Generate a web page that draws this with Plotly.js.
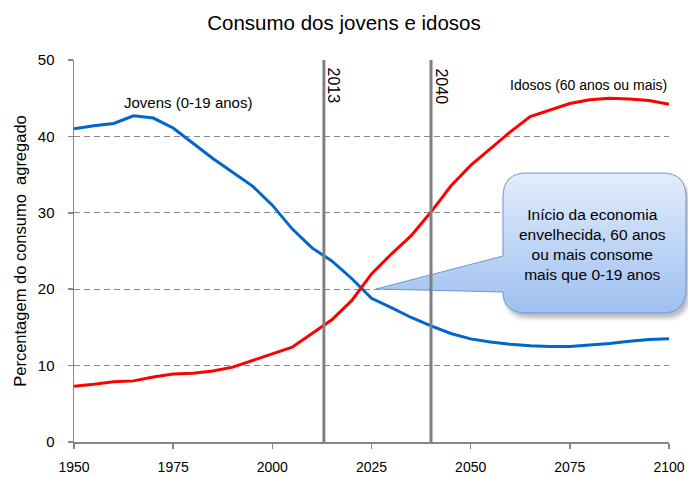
<!DOCTYPE html>
<html>
<head>
<meta charset="utf-8">
<script src="https://cdn.plot.ly/plotly-3.0.1.min.js"></script>
<style>html,body{margin:0;padding:0;background:#fff;}#chart{width:688px;height:477px;}</style>
</head>
<body>
<div id="chart"></div>
<script>
// ---- Data ----
const years = [1950,1955,1960,1965,1970,1975,1980,1985,1990,1995,2000,2005,2010,2015,2020,2025,2030,2035,2040,2045,2050,2055,2060,2065,2070,2075,2080,2085,2090,2095,2100];
const jovens = [41.0,41.4,41.7,42.7,42.4,41.1,39.1,37.1,35.3,33.5,31.0,27.9,25.4,23.7,21.4,18.8,17.6,16.3,15.2,14.2,13.5,13.1,12.8,12.6,12.5,12.5,12.7,12.9,13.2,13.4,13.5];
const idosos = [7.3,7.55,7.9,8.0,8.5,8.9,9.0,9.3,9.8,10.7,11.5,12.4,14.2,16.0,18.5,22.0,24.6,27.0,30.1,33.5,36.2,38.4,40.6,42.6,43.4,44.3,44.8,45.0,44.9,44.7,44.2];
const markerYears = [2013, 2040];
const markerLabels = ["2013", "2040"];
const xTicks = [1950,1975,2000,2025,2050,2075,2100];
const yTicks = [0,10,20,30,40,50];
const seriesNames = ["Jovens (0-19 anos)", "Idosos (60 anos ou mais)"];
const calloutText = "Início da economia<br>envelhecida, 60 anos<br>ou mais consome<br>mais que 0-19 anos";

const FONT = "Liberation Sans, Arial, sans-serif";

const traces = [
  {x: years, y: jovens, type: 'scatter', mode: 'lines', name: seriesNames[0],
   line: {color: '#0066cc', width: 3}, hoverinfo: 'skip'},
  {x: years, y: idosos, type: 'scatter', mode: 'lines', name: seriesNames[1],
   line: {color: '#ff0000', width: 3}, hoverinfo: 'skip'}
];

// callout bubble as SVG image (gradient fill)
const svg = '<svg xmlns="http://www.w3.org/2000/svg" width="320" height="160" viewBox="0 0 320 160">' +
  '<defs><linearGradient id="g" x1="0" y1="0" x2="0" y2="1">' +
  '<stop offset="0" stop-color="#e3edfc"/><stop offset="1" stop-color="#9ec0f0"/></linearGradient>' +
  '<filter id="b"><feGaussianBlur stdDeviation="2.5"/></filter></defs>' +
  '<path transform="translate(3,5)" filter="url(#b)" fill="rgba(0,0,0,0.28)" d="M 133,30 L 133,91 L 133,127 Q 133,148 157,148 L 292,148 Q 316,148 316,124 L 316,32 Q 316,8 292,8 L 157,8 Q 133,8 133,32 Z"/>' +
  '<path fill="url(#g)" stroke="#6a96d6" stroke-width="1" d="M 133,91 L 6,124 L 133,127 Q 133,148 157,148 L 292,148 Q 316,148 316,124 L 316,32 Q 316,8 292,8 L 157,8 Q 133,8 133,32 Z"/>' +
  '</svg>';
const svgUri = 'data:image/svg+xml;charset=utf-8,' + encodeURIComponent(svg);

const shapes = markerYears.map(yr => ({
  type: 'line', xref: 'x', yref: 'y', x0: yr, x1: yr, y0: 0, y1: 50,
  line: {color: '#7f7f7f', width: 3}, layer: 'above'
}));

const annotations = [
  {x: 1978.7, y: 44.5, xref: 'x', yref: 'y', text: seriesNames[0], showarrow: false,
   xanchor: 'center', yanchor: 'middle', font: {family: FONT, size: 15, color: '#000'}},
  {x: 2100, y: 46.7, xref: 'x', yref: 'y', text: seriesNames[1], showarrow: false,
   xanchor: 'right', yanchor: 'middle', font: {family: FONT, size: 14, color: '#000'}},
  {x: 0.872, y: 0.516, xref: 'paper', yref: 'paper', text: calloutText, showarrow: false,
   xanchor: 'center', yanchor: 'middle', align: 'center',
   font: {family: FONT, size: 15.5, color: '#000'}}
].concat(markerYears.map((yr, i) => ({
  x: yr + 2.4, y: 46.6, xref: 'x', yref: 'y', text: markerLabels[i], showarrow: false,
  xanchor: 'center', yanchor: 'middle',
  textangle: 90, font: {family: FONT, size: 16, color: '#000'}
})));

const layout = {
  width: 688, height: 477,
  margin: {l: 74, r: 19, t: 60, b: 35},
  paper_bgcolor: '#fff', plot_bgcolor: '#fff',
  showlegend: false,
  title: {text: 'Consumo dos jovens e idosos', x: 0.5, xanchor: 'center', y: 0.953, yanchor: 'middle',
          font: {family: FONT, size: 20.5, color: '#000'}},
  xaxis: {range: [1950, 2100], tickvals: xTicks, ticktext: xTicks.map(String),
          showgrid: false, zeroline: false, showline: true, linecolor: '#868686', linewidth: 1.5,
          ticks: 'outside', ticklen: 5, tickcolor: '#868686', tickwidth: 1.5, ticklabelstandoff: 7,
          tickfont: {family: FONT, size: 14, color: '#000'}, fixedrange: true},
  yaxis: {range: [0, 50], tickvals: yTicks, ticktext: yTicks.map(String),
          showgrid: true, gridcolor: '#8a8a8a', griddash: '6px,4px', gridwidth: 1,
          zeroline: false, showline: true, linecolor: '#868686', linewidth: 1.5,
          ticks: 'outside', ticklen: 5, tickcolor: '#868686', tickwidth: 1.5, ticklabelstandoff: 10,
          tickfont: {family: FONT, size: 15, color: '#000'},
          title: {text: 'Percentagem do consumo  agregado', standoff: 7,
                  font: {family: FONT, size: 16.5, color: '#000'}}, fixedrange: true},
  shapes: shapes,
  annotations: annotations,
  images: [{source: svgUri, xref: 'paper', yref: 'paper', x: 0.4975, y: 0.7251,
            sizex: 320/595, sizey: 160/382, xanchor: 'left', yanchor: 'top',
            sizing: 'stretch', layer: 'above'}]
};

Plotly.newPlot('chart', traces, layout, {displayModeBar: false, staticPlot: true});
</script>
</body>
</html>
